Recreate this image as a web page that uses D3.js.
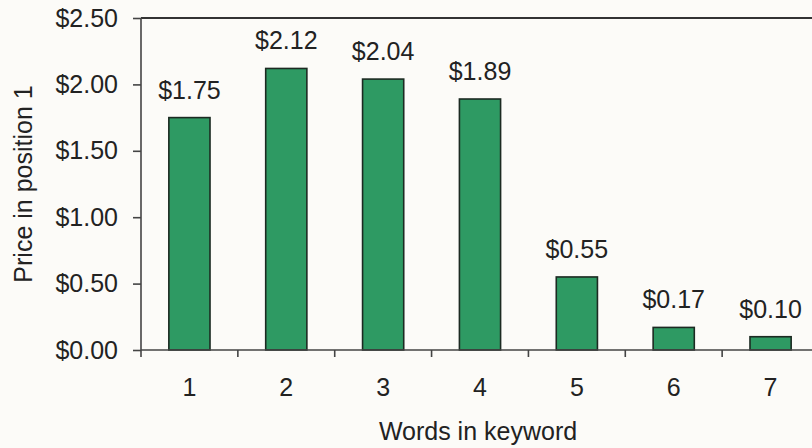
<!DOCTYPE html>
<html>
<head>
<meta charset="utf-8">
<script src="https://cdn.jsdelivr.net/npm/d3@7"></script>
<style>
  html, body { margin: 0; padding: 0; background: #fcfbf8; }
  svg { display: block; }
  text { font-family: "Liberation Sans", Arial, sans-serif; fill: #222; }
</style>
</head>
<body>
<svg id="chart" width="812" height="448"></svg>
<script>
// Average position-1 price by keyword length
const categories = ["1", "2", "3", "4", "5", "6", "7"];
const prices = [1.75, 2.12, 2.04, 1.89, 0.55, 0.17, 0.10];
const yTicks = [0, 0.5, 1.0, 1.5, 2.0, 2.5];

const svg = d3.select("#chart");
const plotLeft = 141, plotRight = 819, plotTop = 18, plotBottom = 350;
const fontSize = 25;
const fmt = d => "$" + d3.format(".2f")(d);

const x = d3.scaleBand().domain(categories).range([plotLeft, plotRight])
  .paddingInner(0.575).paddingOuter(0.2875);
const y = d3.scaleLinear().domain([0, 2.5]).range([plotBottom, plotTop]);

// frame: top border line
svg.append("line")
  .attr("x1", plotLeft).attr("x2", 812).attr("y1", y(2.5)).attr("y2", y(2.5))
  .attr("stroke", "#333").attr("stroke-width", 2);

// bars
svg.append("g").selectAll("rect").data(prices).join("rect")
  .attr("x", (d, i) => x(categories[i]))
  .attr("y", d => y(d))
  .attr("width", x.bandwidth())
  .attr("height", d => y(0) - y(d))
  .attr("fill", "#2e9a63")
  .attr("stroke", "#1c2a22")
  .attr("stroke-width", 1.6);

// value labels
svg.append("g").selectAll("text").data(prices).join("text")
  .attr("x", (d, i) => x(categories[i]) + x.bandwidth() / 2)
  .attr("y", d => y(d) - 19)
  .attr("text-anchor", "middle")
  .attr("font-size", fontSize)
  .text(fmt);

// y axis
const yAxis = svg.append("g").attr("transform", `translate(${plotLeft},0)`)
  .call(d3.axisLeft(y).tickValues(yTicks).tickFormat(fmt).tickSize(8).tickPadding(15));
yAxis.select(".domain").attr("stroke", "#444").attr("stroke-width", 1.6)
  .attr("d", `M0,${plotTop}V${plotBottom + 7}`);
yAxis.selectAll(".tick line").attr("stroke", "#444").attr("stroke-width", 1.6);
yAxis.selectAll(".tick text").attr("font-size", fontSize).attr("fill", "#222")
  .style("font-family", "'Liberation Sans', Arial, sans-serif");

// x axis: ticks at category boundaries
const xAxisG = svg.append("g").attr("transform", `translate(0,${plotBottom})`);
xAxisG.append("line").attr("x1", plotLeft).attr("x2", 812).attr("y1", 0).attr("y2", 0)
  .attr("stroke", "#444").attr("stroke-width", 1.6);
const step = x.step();
const boundaries = categories.slice(1).map(c => x(c) - x.paddingInner() * step / 2);
xAxisG.selectAll("line.tk").data(boundaries).join("line").attr("class", "tk")
  .attr("x1", d => d).attr("x2", d => d).attr("y1", 0).attr("y2", 7)
  .attr("stroke", "#444").attr("stroke-width", 1.6);
xAxisG.selectAll("text").data(categories).join("text")
  .attr("x", d => x(d) + x.bandwidth() / 2)
  .attr("y", 46)
  .attr("text-anchor", "middle")
  .attr("font-size", fontSize)
  .text(d => d);

// axis titles
svg.append("text")
  .attr("x", 478).attr("y", 440)
  .attr("text-anchor", "middle")
  .attr("font-size", fontSize)
  .text("Words in keyword");
svg.append("text")
  .attr("transform", `translate(32,${(plotTop + plotBottom) / 2}) rotate(-90)`)
  .attr("text-anchor", "middle")
  .attr("font-size", fontSize)
  .text("Price in position 1");
</script>
</body>
</html>
